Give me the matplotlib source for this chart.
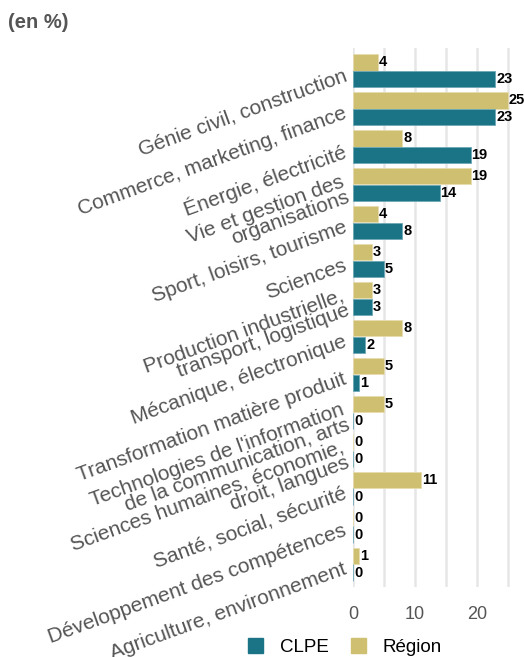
import matplotlib
matplotlib.use("Agg")
import matplotlib.pyplot as plt
import numpy as np

plt.rcParams['font.family'] = ['Liberation Sans', 'DejaVu Sans']

categories = [
    "Génie civil, construction",
    "Commerce, marketing, finance",
    "Énergie, électricité",
    "Vie et gestion des\norganisations",
    "Sport, loisirs, tourisme",
    "Sciences",
    "Production industrielle,\ntransport, logistique",
    "Mécanique, électronique",
    "Transformation matière produit",
    "Technologies de l'information\nde la communication, arts",
    "Sciences humaines, économie,\ndroit, langues",
    "Santé, social, sécurité",
    "Développement des compétences",
    "Agriculture, environnement",
]
region = [4, 25, 8, 19, 4, 3, 3, 8, 5, 5, 0, 11, 0, 1]
clpe = [23, 23, 19, 14, 8, 5, 3, 2, 1, 0, 0, 0, 0, 0]
x_ticks = [0, 10, 20]

TEAL = "#1b7386"
GOLD = "#cfbf70"
GREY = "#555555"

fig = plt.figure(figsize=(5.24, 6.57), dpi=100)
W, H = 524, 657
ax = fig.add_axes([353 / W, 1 - 587 / H, (520 - 353) / W, (587 - 48) / H])

y = np.arange(len(categories))
bh = 0.43
off = 0.22

ax.barh(y - off, region, height=bh, color=GOLD, edgecolor="#e6dcae", linewidth=0.6, zorder=3)
ax.barh(y + off, clpe, height=bh, color=TEAL, edgecolor="#6fa8b5", linewidth=0.6, zorder=3)

for yi, v in zip(y - off, region):
    ax.text(v + 0.15, yi, str(v), va="center", ha="left", fontsize=10.5,
            fontweight="bold", color="black", zorder=4)
for yi, v in zip(y + off, clpe):
    ax.text(v + 0.15, yi, str(v), va="center", ha="left", fontsize=10.5,
            fontweight="bold", color="black", zorder=4)

ax.set_xlim(0, 27)
ax.set_ylim(len(categories) - 0.4, -0.6)

grid_pos = np.arange(0, 26, 5)
ax.set_xticks(grid_pos)
ax.set_xticklabels([str(t) if t in x_ticks else "" for t in grid_pos],
                   fontsize=13, color=GREY)
ax.xaxis.grid(True, color="#e6e6e6", linewidth=1.8, zorder=0)
ax.set_axisbelow(True)
ax.tick_params(axis="x", length=0, pad=14)
ax.set_yticks([])
for s in ax.spines.values():
    s.set_visible(False)

# slanted category labels to the left of the bars
for yi, lab in zip(y, categories):
    ax.annotate(lab, xy=(0, yi), xycoords=("axes fraction", "data"),
                xytext=(-5, -3), textcoords="offset points",
                rotation=20, rotation_mode="anchor", ha="right", va="center",
                multialignment="right", fontsize=15, color=GREY,
                linespacing=0.8, annotation_clip=False)

fig.text(8 / W, 1 - 22 / H, "(en %)", fontsize=14.5, fontweight="bold",
         color=GREY, ha="left", va="center")

handles = [plt.Rectangle((0, 0), 1, 1, color=TEAL),
           plt.Rectangle((0, 0), 1, 1, color=GOLD)]
fig.legend(handles, ["CLPE", "Région"], loc="center", ncol=2,
           bbox_to_anchor=(345 / W, 1 - 647 / H), frameon=False,
           fontsize=13.5, handlelength=0.8, handleheight=0.8,
           handletextpad=0.9, columnspacing=1.2)

fig.savefig("out.png", dpi=100)
